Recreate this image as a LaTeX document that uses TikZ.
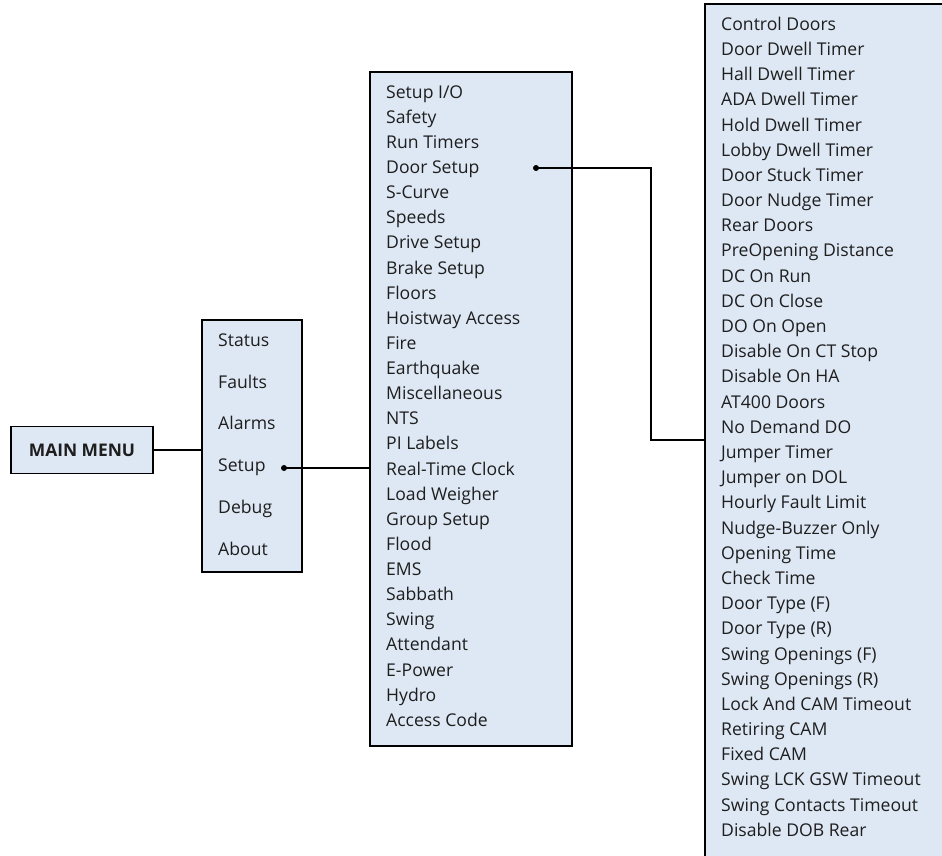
\documentclass[tikz,border=0pt]{standalone}
\usepackage{fontspec}
\setmainfont{Open Sans}
\usetikzlibrary{positioning}
\definecolor{menuInk}{HTML}{1E1E1E}
\definecolor{menuFill}{HTML}{DEE8F4}
\tikzset{
  every picture/.style={font=\fontsize{17.6}{20}\selectfont, text=menuInk},
  menu box/.style={draw=black, line width=1.7pt, fill=menuFill, inner sep=0pt},
  menu item/.style={anchor=west, inner sep=0pt, text height=12pt, text depth=3.5pt},
  menu link/.style={draw=black, line width=1.7pt},
  menu dot/.style={circle, fill=black, inner sep=0pt, minimum size=6pt}
}

\begin{document}
\begin{tikzpicture}[x=1pt, y=-1pt]
  \useasboundingbox (0,0) rectangle (942,856);
  \node[menu box, minimum width=142pt, minimum height=47pt,
    font=\bfseries\fontsize{17.4}{20}\selectfont] (mainmenu) at (82,450) {MAIN MENU};
  \node[menu box, minimum width=100pt, minimum height=252pt] (menu) at (252,446) {};
  \node[menu box, minimum width=202pt, minimum height=674pt] (setupbox) at (471,409) {};
  \node[menu box, minimum width=245pt, minimum height=870pt] (doorbox) at (827.5,439) {};
  \foreach \txt [count=\i] in {Status,Faults,Alarms,Setup,Debug,About}
    \node[menu item] (menu-\i) at (218,{342+41.8*(\i-1)}) {\txt};
  \foreach \txt [count=\i] in {Setup I/O,Safety,Run Timers,Door Setup,S-Curve,Speeds,
      Drive Setup,Brake Setup,Floors,Hoistway Access,Fire,Earthquake,Miscellaneous,NTS,
      PI Labels,Real-Time Clock,Load Weigher,Group Setup,Flood,EMS,Sabbath,Swing,
      Attendant,E-Power,Hydro,Access Code}
    \node[menu item] (setup-\i) at (386,{94+25.12*(\i-1)}) {\txt};
  \foreach \txt [count=\i] in {Control Doors,Door Dwell Timer,Hall Dwell Timer,
      ADA Dwell Timer,Hold Dwell Timer,Lobby Dwell Timer,Door Stuck Timer,
      Door Nudge Timer,Rear Doors,PreOpening Distance,DC On Run,DC On Close,
      DO On Open,Disable On CT Stop,Disable On HA,AT400 Doors,No Demand DO,
      Jumper Timer,Jumper on DOL,Hourly Fault Limit,Nudge-Buzzer Only,Opening Time,
      Check Time,Door Type (F),Door Type (R),Swing Openings (F),Swing Openings (R),
      Lock And CAM Timeout,Retiring CAM,Fixed CAM,Swing LCK GSW Timeout,
      Swing Contacts Timeout,Disable DOB Rear}
    \node[menu item] (door-\i) at (721,{26+25.19*(\i-1)}) {\txt};
  \node[menu dot] (setupdot) at (284,468) {};
  \node[menu dot] (doordot) at (536,168) {};
  \coordinate (doorbend) at (651,168);
  \coordinate (doorin) at (705,440);
  \draw[menu link] (mainmenu.east) -- (mainmenu.east -| menu.west);
  \draw[menu link] (setupdot.center) -- (setupdot.center -| setupbox.west);
  \draw[menu link] (doordot.center) -- (doorbend) |- (doorin);
\end{tikzpicture}
\end{document}
